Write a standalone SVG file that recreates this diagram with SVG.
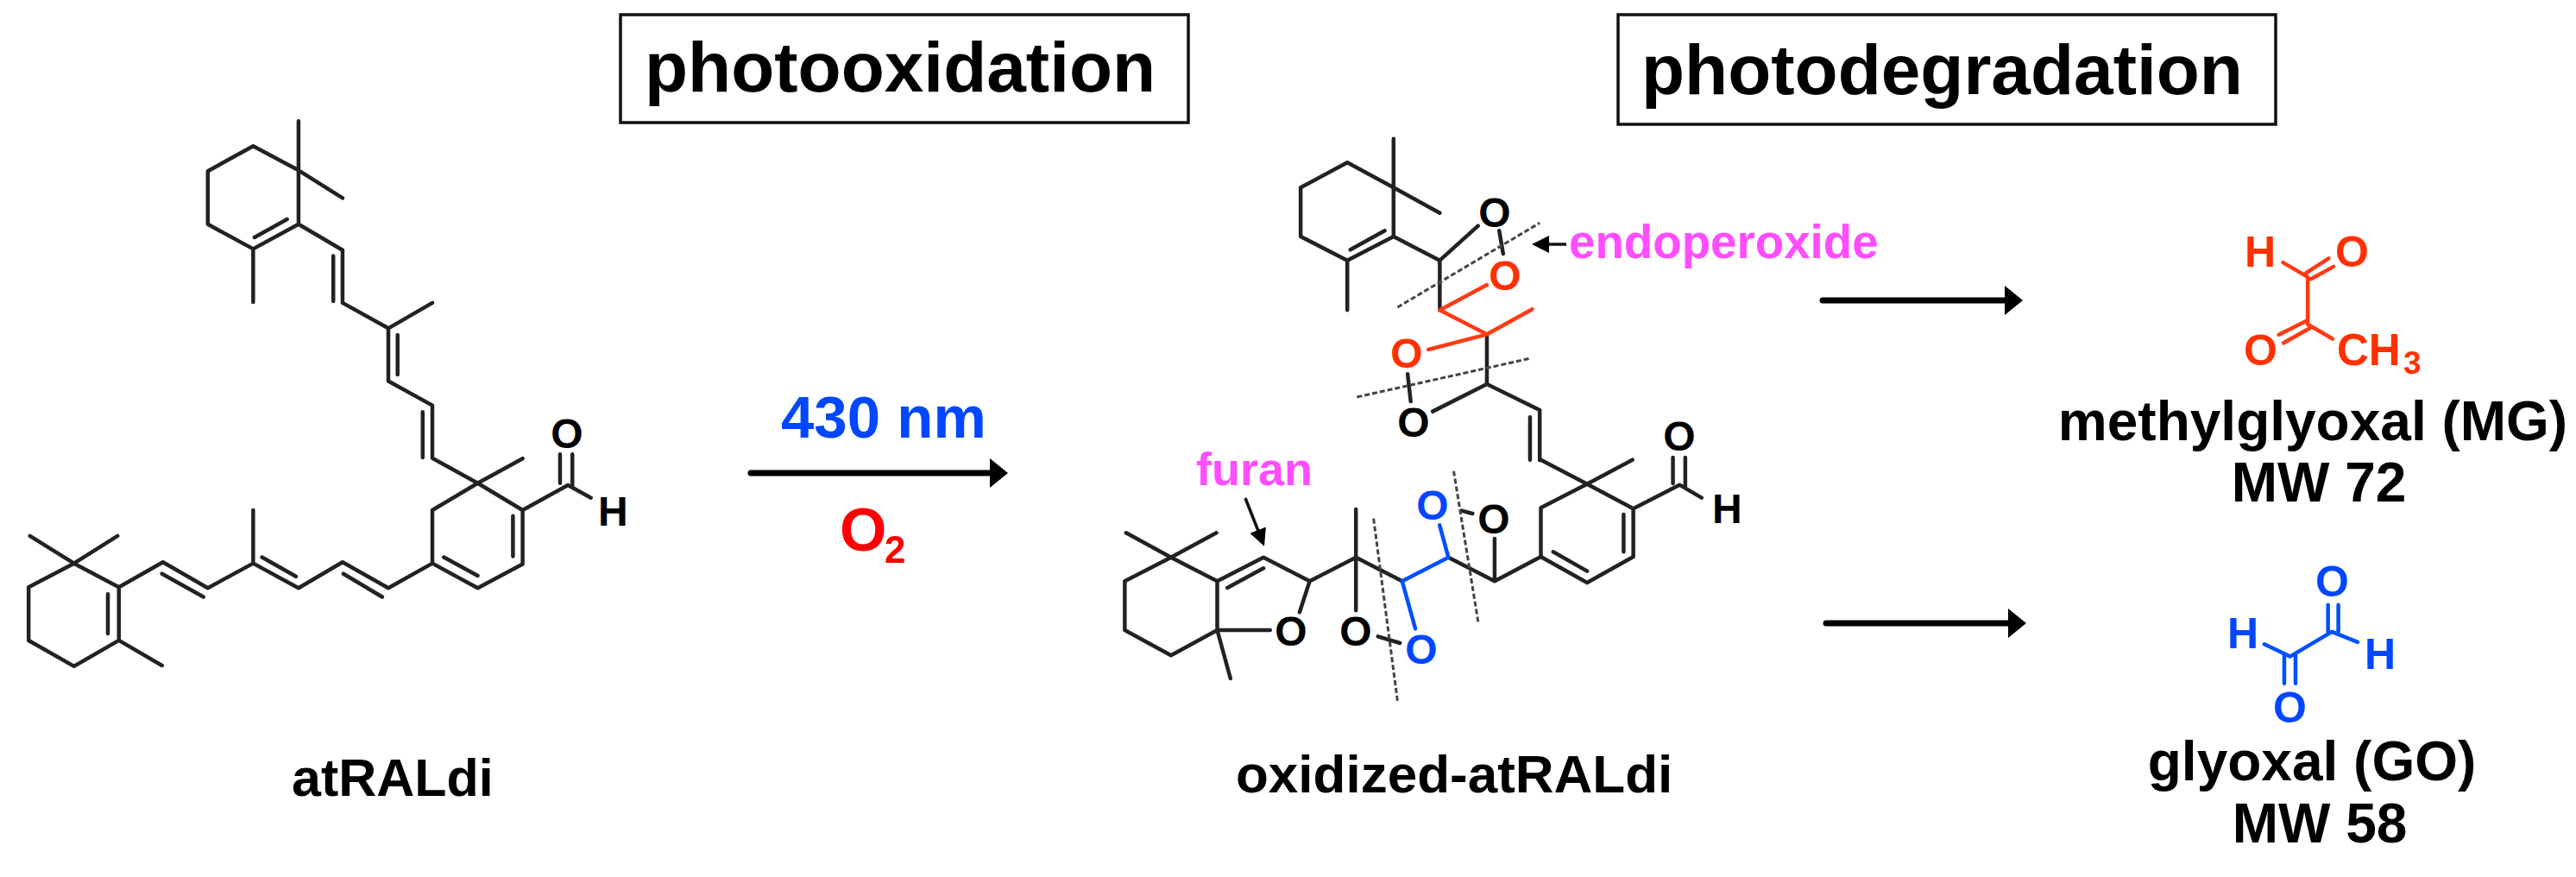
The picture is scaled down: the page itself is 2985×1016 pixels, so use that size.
<svg xmlns="http://www.w3.org/2000/svg" width="2985" height="1016" viewBox="0 0 2985 1016">
<style>
text{font-family:"Liberation Sans",Arial,sans-serif;font-weight:bold}
.k{fill:#000}.r{fill:#ff3000}.b{fill:#0047ff}.m{fill:#ff4dff}.pure{fill:#ff0000}
.a{font-size:48px;text-anchor:middle;stroke-width:.6px}
.box{fill:#fff;stroke:#111;stroke-width:3.5}
.bond,.rb,.bb,.cut{fill:none;stroke-linecap:round;stroke-linejoin:round;vector-effect:non-scaling-stroke}
.bond{stroke:#222;stroke-width:4.5}
.rb{stroke:#ff3a14;stroke-width:4.5}
.bb{stroke:#0050ff;stroke-width:4.5}
.cut{stroke:#444;stroke-width:3;stroke-dasharray:6 3;stroke-linecap:butt}
.arrow{fill:none;stroke:#000;stroke-width:7;stroke-linecap:round}
.thin{fill:none;stroke:#111;stroke-width:3.5}
</style>
<defs>
<marker id="head" markerUnits="userSpaceOnUse" markerWidth="24" markerHeight="36" refX="1" refY="17" orient="auto"><path d="M0 0L21 17L0 34Z" fill="#000"/></marker>
<marker id="headS" markerUnits="userSpaceOnUse" markerWidth="22" markerHeight="22" refX="1" refY="10" orient="auto"><path d="M0 0L20 10L0 20Z" fill="#000"/></marker>
</defs>
<rect width="2985" height="1016" fill="#fff"/>

<g id="label-photooxidation">
<rect class="box" x="719" y="17" width="658" height="125"/>
<text x="747" y="106" font-size="82">photooxidation</text>
</g>
<g id="label-photodegradation">
<rect class="box" x="1875" y="17" width="762" height="127"/>
<text x="1902" y="109" font-size="82">photodegradation</text>
</g>

<g id="connectors">
<path class="arrow" d="M870 548H1148" marker-end="url(#head)"/>
<path class="arrow" d="M2112 348H2324" marker-end="url(#head)"/>
<path class="arrow" d="M2116 722H2328" marker-end="url(#head)"/>
<path class="thin" d="M1815 283H1794" marker-end="url(#headS)"/>
<path class="thin" d="M1443 577L1458 615" marker-end="url(#headS)"/>
</g>

<g id="atRALdi">
<g transform="translate(0,100) scale(.5102,.4464)">
<path class="bond" d="M575 155L678 218L678 358L575 422L472 358L472 220ZM578 392L652 345M678 90L678 218L778 290M575 422L575 560M678 358L778 425L778 562L882 628L882 765L982 828L982 965L1085 1030M757 440L757 558M903 645L903 748M960 845L960 963M882 628L982 562"/>
<path class="bond" d="M1085 1030L1187 1100L1187 1240L1085 1302L982 1238L982 1100ZM1085 1030L1187 966M1165 1115L1165 1220M1008 1222L1085 1270M1187 1100L1290 1035L1342 1068M1272 955L1272 1030M1300 955L1300 1040"/>
<path class="bond" d="M168 1238L270 1300L270 1438L168 1505L65 1438L65 1300ZM68 1167L168 1238L267 1167M270 1438L368 1503M270 1300L370 1235L472 1302L575 1238L678 1302L778 1235L882 1302L982 1238M575 1238L575 1100M245 1318L245 1420M368 1265L462 1325M595 1222L672 1272M780 1265L868 1325"/>
</g>
<text class="a k" x="657" y="519">O</text>
<text class="k" x="693" y="609" font-size="48">H</text>
<text class="k" x="338" y="922" font-size="61">atRALdi</text>
</g>

<g id="reagents">
<text class="b" x="905" y="507" font-size="69">430 nm</text>
<text class="pure" x="973" y="638" font-size="70">O</text>
<text class="pure" x="1025" y="652" font-size="44">2</text>
</g>

<g id="oxidized-atRALdi">
<g transform="translate(1450,130) scale(.5102,.3333)">
<path class="bond" d="M218 175L323 262L323 432L218 515L112 432L112 262ZM323 92L323 262L428 350M218 515L218 688M225 478L303 412M323 432L428 515L428 688M428 515L515 395M563 412L572 492M535 772L535 945M355 910L362 1005M535 945L412 1040M535 945L655 1035L655 1210M633 1060L633 1208"/>
<path class="rb" d="M535 600L428 688L535 772L638 685M535 772L402 825"/>
<path class="cut" d="M332 678L655 385M240 990L635 855"/>
</g>
<g transform="translate(1260,480) scale(.5102,.3333)">
<path class="bond" d="M1030 158L1135 242L1240 328L1240 495L1135 585L1030 495L1030 325L1135 242L1238 158M1240 328L1345 245L1395 290M1330 150L1330 240M1358 150L1358 250M1218 348L1218 478M1058 478L1135 545M1030 495L925 580L820 497M925 580L925 432M850 335L875 345M660 772L710 795M715 580L610 497L505 580L400 497L295 580M610 330L610 682M505 580L482 688M295 750L415 750M295 580L295 750M318 603L400 535M295 580L190 497L85 580L85 750L190 838L295 750L325 918M88 412L190 497L293 412"/>
<path class="bb" d="M820 497L715 580L745 745M820 497L800 385"/>
<path class="cut" d="M650 362L705 1003M832 197L888 725"/>
</g>
<text class="a k" x="1732" y="263">O</text>
<text class="a r" x="1744" y="336">O</text>
<text class="a r" x="1630" y="426">O</text>
<text class="a k" x="1638" y="506">O</text>
<text class="a k" x="1946" y="522">O</text>
<text class="k" x="1984" y="606" font-size="48">H</text>
<text class="a b" x="1660" y="602">O</text>
<text class="a k" x="1731" y="618">O</text>
<text class="a k" x="1496" y="748">O</text>
<text class="a k" x="1571" y="748">O</text>
<text class="a b" x="1647" y="769">O</text>
<text class="m" x="1386" y="562" font-size="54">furan</text>
<text class="m" x="1818" y="299" font-size="54.7">endoperoxide</text>
<text class="k" x="1432" y="918" font-size="62">oxidized-atRALdi</text>
</g>

<g id="methylglyoxal">
<g transform="translate(2400,230) scale(.373,.478)">
<path class="rb" d="M658 155L735 190L735 305L812 340M730 180L800 145M745 195L815 165M735 295L645 330M740 315L660 350"/>
</g>
<text class="r" x="2601" y="309" font-size="50">H</text>
<text class="r" x="2706" y="309" font-size="50">O</text>
<text class="r" x="2600" y="423" font-size="50">O</text>
<text class="r" x="2708" y="423" font-size="51">CH</text>
<text class="r" x="2785" y="433" font-size="37">3</text>
<text class="k" x="2680" y="510" font-size="64" text-anchor="middle">methylglyoxal (MG)</text>
<text class="k" x="2687" y="581" font-size="64" text-anchor="middle">MW 72</text>
</g>

<g id="glyoxal">
<g transform="translate(2400,230) scale(.373,.478)">
<path class="bb" d="M600 1080L680 1110L810 1050L890 1075M798 985L798 1050M830 985L830 1050M662 1105L662 1175M697 1105L697 1175"/>
</g>
<text class="b" x="2581" y="751" font-size="50">H</text>
<text class="b" x="2740" y="775" font-size="50">H</text>
<text class="b" x="2683" y="691" font-size="50">O</text>
<text class="b" x="2634" y="837" font-size="50">O</text>
<text class="k" x="2679" y="904" font-size="64" text-anchor="middle">glyoxal (GO)</text>
<text class="k" x="2688" y="976" font-size="64" text-anchor="middle">MW 58</text>
</g>
</svg>
